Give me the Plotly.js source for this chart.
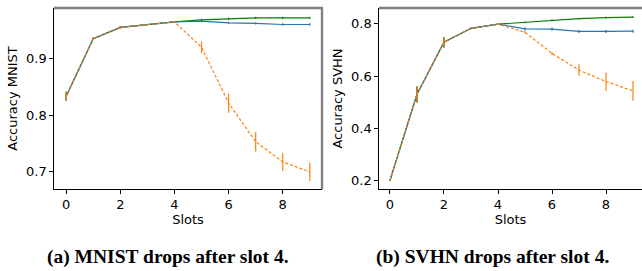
<!DOCTYPE html>
<html><head><meta charset="utf-8">
<script src="https://cdn.plot.ly/plotly-3.0.1.min.js"></script>
<style>html,body{margin:0;padding:0;background:#fff}#c{width:642px;height:271px}</style>
</head><body><div id="c"></div>
<script>
const slots = [0,1,2,3,4,5,6,7,8,9];
// MNIST
const mnistBlue   = [0.833,0.934,0.954,0.959,0.9635,0.965,0.962,0.961,0.959,0.959];
const mnistGreen  = [0.833,0.934,0.954,0.959,0.9635,0.967,0.969,0.9705,0.9705,0.9705];
const mnistOrange = [0.833,0.934,0.954,0.959,0.9635,0.919,0.821,0.753,0.7176,0.700];
const mnistBlueErr   = [0.008,0.002,0.002,0.001,0.001,0.002,0.002,0.002,0.002,0.002];
const mnistGreenErr  = [0.008,0.002,0.002,0.001,0.001,0.002,0.002,0.002,0.002,0.002];
const mnistOrangeErr = [0.008,0.002,0.002,0.001,0.001,0.010,0.017,0.017,0.016,0.016];
// SVHN
const svhnBlue   = [0.200,0.530,0.730,0.783,0.799,0.781,0.780,0.771,0.771,0.772];
const svhnGreen  = [0.200,0.530,0.730,0.783,0.799,0.806,0.815,0.820,0.824,0.826];
const svhnOrange = [0.200,0.530,0.730,0.783,0.799,0.768,0.687,0.623,0.579,0.543];
const svhnBlueErr   = [0.002,0.030,0.020,0.003,0.003,0.006,0.006,0.006,0.006,0.006];
const svhnGreenErr  = [0.002,0.030,0.020,0.003,0.003,0.003,0.003,0.003,0.003,0.003];
const svhnOrangeErr = [0.002,0.032,0.020,0.003,0.003,0.005,0.005,0.022,0.035,0.038];

const W = 642, H = 271;
const px = v => v / W, py = v => 1 - v / H;

function tr(y, err, color, dash, xa, ya) {
  return {x: slots, y: y, type: 'scatter', mode: 'lines', xaxis: xa, yaxis: ya,
    line: {color: color, width: 1.2, dash: dash},
    error_y: {type: 'data', array: err, visible: true, color: color, thickness: 1.2, width: 0}};
}
const data = [
  tr(mnistGreen, mnistGreenErr, '#008000', 'solid', 'x', 'y'),
  tr(mnistBlue, mnistBlueErr, '#1f77b4', 'solid', 'x', 'y'),
  tr(mnistOrange, mnistOrangeErr, '#ff7f0e', '3px,2px', 'x', 'y'),
  tr(svhnGreen, svhnGreenErr, '#008000', 'solid', 'x2', 'y2'),
  tr(svhnBlue, svhnBlueErr, '#1f77b4', 'solid', 'x2', 'y2'),
  tr(svhnOrange, svhnOrangeErr, '#ff7f0e', '3px,2px', 'x2', 'y2')
];
const tickFont = {family: 'DejaVu Sans', size: 13, color: '#000'};
const axBase = {showgrid: false, zeroline: false, showline: true, linecolor: '#000', linewidth: 1.2,
  ticks: 'outside', ticklen: 3.5, tickwidth: 1, tickcolor: '#000', tickfont: tickFont};
const titleFont = {family: 'DejaVu Sans', size: 13, color: '#000'};
const layout = {
  width: W, height: H, margin: {l: 0, r: 0, t: 0, b: 0}, showlegend: false,
  paper_bgcolor: '#fff', plot_bgcolor: '#fff',
  xaxis: Object.assign({}, axBase, {domain: [px(54), px(322)], range: [-0.45, 9.45], tickvals: [0,2,4,6,8], anchor: 'y',
    title: {text: 'Slots', font: titleFont, standoff: 1}}),
  yaxis: Object.assign({}, axBase, {domain: [py(189), py(8)], range: [0.670, 0.988], tickvals: [0.7,0.8,0.9], ticktext: ['0.7','0.8','0.9'], anchor: 'x',
    title: {text: 'Accuracy MNIST', font: titleFont, standoff: 5}}),
  xaxis2: Object.assign({}, axBase, {domain: [px(379), 1], range: [-0.407, 9.333], tickvals: [0,2,4,6,8], anchor: 'y2',
    title: {text: 'Slots', font: titleFont, standoff: 1}}),
  yaxis2: Object.assign({}, axBase, {domain: [py(189), py(8)], range: [0.167, 0.861], tickvals: [0.2,0.4,0.6,0.8], ticktext: ['0.2','0.4','0.6','0.8'], anchor: 'x2',
    title: {text: 'Accuracy SVHN', font: titleFont, standoff: 5}}),
  shapes: [
    {type: 'line', xref: 'paper', yref: 'paper', x0: px(54), x1: px(323), y0: py(8), y1: py(8), line: {color: '#808080', width: 2.4}},
    {type: 'line', xref: 'paper', yref: 'paper', x0: px(322), x1: px(322), y0: py(8), y1: py(189), line: {color: '#808080', width: 2.4}},
    {type: 'line', xref: 'paper', yref: 'paper', x0: px(379), x1: 1, y0: py(8), y1: py(8), line: {color: '#808080', width: 2.4}}
  ],
  annotations: [
    {text: '<b>(a) MNIST drops after slot 4.</b>', xref: 'paper', yref: 'paper', x: px(168), y: py(257), xanchor: 'center', yanchor: 'middle', showarrow: false,
      font: {family: 'Liberation Serif', size: 19.5, color: '#000'}},
    {text: '<b>(b) SVHN drops after slot 4.</b>', xref: 'paper', yref: 'paper', x: px(492), y: py(257), xanchor: 'center', yanchor: 'middle', showarrow: false,
      font: {family: 'Liberation Serif', size: 19.5, color: '#000'}}
  ]
};
Plotly.newPlot('c', data, layout, {staticPlot: true, displayModeBar: false});
</script></body></html>
